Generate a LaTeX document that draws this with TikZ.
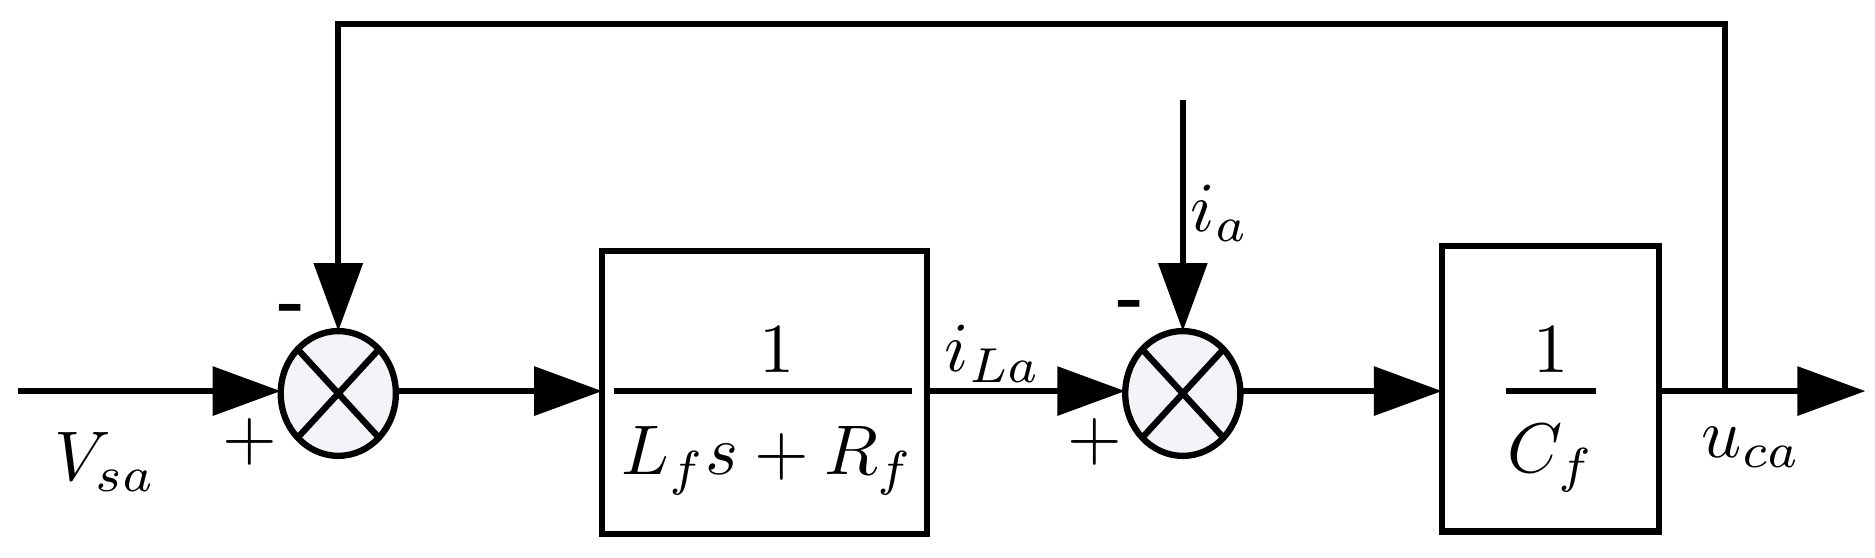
\documentclass[tikz,border=0pt]{standalone}
\usetikzlibrary{arrows.meta}
\begin{document}
\begin{tikzpicture}[x=0.03cm,y=-0.03cm,line width=4.5pt,
  arr/.style={-{Triangle[length=1.7cm,width=1.2cm]}},
  lab/.style={scale=5}]
\useasboundingbox (0,0) rectangle (1563,465);
\foreach \n/\cx in {s1/282,s2/986}{
  \draw[fill={rgb,255:red,242;green,244;blue,250}] (\cx,328) ellipse [x radius=48,y radius=52];
  \coordinate (\n) at (\cx,328);
  \coordinate (\n t) at (\cx,276);
  \coordinate (\n l) at (\cx-48,326);
  \coordinate (\n r) at (\cx+48,326);
  \draw (\cx-34,291) -- (\cx+34,365) (\cx+34,291) -- (\cx-34,365);
}
\draw (502,209) rectangle (773,445); \coordinate (b1l) at (502,326); \coordinate (b1r) at (773,326);
\draw (1202,205) rectangle (1383,443); \coordinate (b2l) at (1202,326); \coordinate (b2r) at (1383,326);
\draw (512,326) -- (760,326);
\draw (1255,326) -- (1330,326);
\node[lab] (n1) at (648,292) {$1$};
\node[lab] (d1) at (640,384) {$L_f s+R_f$};
\node[lab] (n2) at (1293,292) {$1$};
\node[lab] (d2) at (1293,382) {$C_f$};
\coordinate (in) at (15,326);
\coordinate (out) at (1555,326);
\coordinate (tap) at (1438,326);
\coordinate (ia) at (986,83);
\draw[arr] (in) -- (s1l);
\draw[arr] (s1r) -- (b1l);
\draw[arr] (b1r) -- (s2l);
\draw[arr] (s2r) -- (b2l);
\draw[arr] (b2r) -- (out);
\draw[arr] (tap) -- (1438,20) -- (282,20) -- (s1t);
\draw[arr] (ia) -- (s2t);
\node[lab] (vsa) at (88,385) {$V_{sa}$};
\node[lab] (p1) at (208,368) {$+$};
\node[lab] (p2) at (913,368) {$+$};
\node[lab] (m1) at (243,262) {\textbf{-}};
\node[lab] (m2) at (943,258) {\textbf{-}};
\node[lab] (ila) at (828,295) {$i_{La}$};
\node[lab] (iat) at (1017,178) {$i_a$};
\node[lab] (uca) at (1460,373) {$u_{ca}$};
\end{tikzpicture}
\end{document}
